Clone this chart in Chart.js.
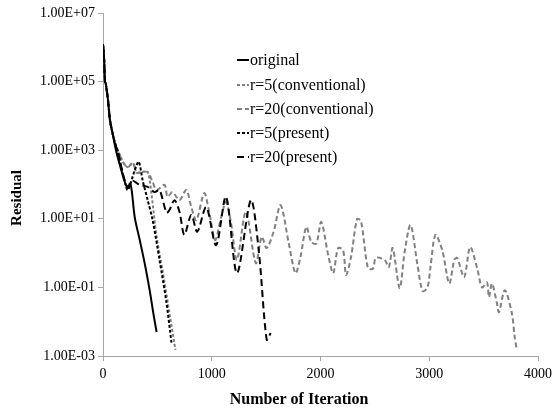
<!DOCTYPE html>
<html>
<head>
<meta charset="utf-8">
<script src="https://cdn.jsdelivr.net/npm/chart.js@4/dist/chart.umd.min.js"></script>
<style>
html,body{margin:0;padding:0;background:#fff;}
#wrap{position:relative;width:557px;height:412px;}
canvas{display:block;}
</style>
</head>
<body>
<div id="wrap"><canvas id="c" width="557" height="412"></canvas></div>
<script>
// ---- data ----
const seriesNames = ["original", "r=5(conventional)", "r=20(conventional)", "r=5(present)", "r=20(present)"];
const xTickLabels = [0, 1000, 2000, 3000, 4000];
const yTickValues = [1e-3, 1e-1, 1e1, 1e3, 1e5, 1e7];

const originalIter = [0,9,18,25,46,64,91,119,155,200,228,255,292,338,383,429,465,493];
const originalVal  = [1.2e6,5.6e5,1.0e5,8.9e4,2.9e4,7.6e3,2.8e3,1.0e3,3.7e2,1.2e2,79,98,11,2.4,0.51,0.083,0.016,0.005];

const conv5Iter = [0,9,18,25,46,64,91,119,137,182,228,274,310,356,411,447,493,547,611,666];
const conv5Val  = [1.2e6,5.6e5,1.0e5,8.9e4,2.9e4,7.6e3,2.8e3,1.3e3,1.0e3,4.6e2,3.2e2,4.3e2,2.2e2,2.3e2,2.3e2,49,3.0,0.32,0.018,0.0015];

const conv20Iter = [0,9,18,25,46,64,91,119,137,182,228,274,310,356,411,456,493,566,593,639,703,766,812,858,931,976,1031,1086,1131,1177,1232,1314,1405,1460,1505,1569,1633,1706,1770,1816,1870,1916,1962,2007,2071,2117,2162,2208,2235,2281,2336,2372,2436,2482,2509,2591,2628,2664,2728,2774,2828,2892,2938,2984,3011,3057,3120,3184,3230,3257,3321,3376,3440,3485,3531,3549,3577,3622,3641,3695,3759,3786,3805];
const conv20Val  = [1.2e6,5.6e5,1.0e5,8.9e4,2.9e4,7.6e3,2.8e3,1.3e3,1.0e3,4.6e2,3.2e2,4.3e2,2.2e2,2.3e2,2.3e2,1.2e2,69,98,44,60,35,69,22,9.1,56,16,2.4,11,31,7.6,0.63,16,0.51,3.0,1.4,4.2,25,2.1,0.26,0.78,5.8,2.1,1.9,8.1,0.87,0.26,1.4,1.2,0.23,0.78,9.8,8.7,0.37,0.35,0.72,0.63,0.39,1.4,0.095,1.1,6.6,0.45,0.079,0.10,0.39,3.4,1.2,0.13,0.63,0.72,0.20,1.5,0.37,0.10,0.14,0.052,0.13,0.035,0.019,0.083,0.018,0.0035,0.0015];

const pres5Iter = [0,9,18,25,46,64,91,119,137,200,228,292,328,365,411,456,520,584,630];
const pres5Val  = [1.2e6,5.6e5,1.0e5,8.9e4,2.9e4,7.6e3,2.8e3,1.3e3,8.7e2,1.2e2,69,2.6e2,4.6e2,1.3e2,35,9.3,0.63,0.035,0.0024];

const pres20Iter = [0,9,18,25,46,64,91,119,137,200,228,265,338,411,474,520,584,611,657,703,748,812,867,949,1040,1131,1232,1360,1432,1505,1542];
const pres20Val  = [1.2e6,5.6e5,1.0e5,8.9e4,2.9e4,7.6e3,2.8e3,1.3e3,8.7e2,1.3e2,85,1.3e2,98,85,60,69,15,18,35,16,3.4,13,4.2,22,1.7,44,0.26,35,1.2,0.003,0.0047];

// ---- build chart ----
const pts = (xs, ys) => xs.map((x, i) => ({x: x, y: ys[i]}));
const FONT = "'Liberation Serif', 'Times New Roman', serif";
const AXIS_GRAY = '#a6a6a6';
const GRAY = '#808080';

function fmtE(v) {
  const e = Math.round(Math.log10(v));
  const sign = e < 0 ? '-' : '+';
  const a = Math.abs(e);
  return '1.00E' + sign + (a < 10 ? '0' + a : String(a));
}

const styles = [
  {color: '#000000', dash: [],     order: 0},
  {color: GRAY,      dash: [3, 2], order: 3},
  {color: GRAY,      dash: [5, 3], order: 4},
  {color: '#000000', dash: [3, 2], order: 1},
  {color: '#000000', dash: [7, 4], order: 2}
];
const dataPairs = [
  [originalIter, originalVal],
  [conv5Iter, conv5Val],
  [conv20Iter, conv20Val],
  [pres5Iter, pres5Val],
  [pres20Iter, pres20Val]
];

const datasets = dataPairs.map((p, i) => ({
  label: seriesNames[i],
  data: pts(p[0], p[1]),
  borderColor: styles[i].color,
  backgroundColor: styles[i].color,
  borderDash: styles[i].dash,
  borderWidth: 2,
  pointRadius: 0,
  fill: false,
  tension: 0.3,
  order: styles[i].order
}));

const overlay = {
  id: 'overlay',
  afterDraw(chart) {
    const ctx = chart.ctx;
    ctx.save();
    // axis titles
    ctx.fillStyle = '#000';
    ctx.textAlign = 'center';
    ctx.textBaseline = 'middle';
    ctx.font = "bold 16px " + FONT;
    ctx.fillText('Number of Iteration', 299, 400);
    ctx.save();
    ctx.translate(17, 198);
    ctx.rotate(-Math.PI / 2);
    ctx.font = "bold 15px " + FONT;
    ctx.fillText('Residual', 0, 0);
    ctx.restore();
    // legend
    const ys = [60, 85, 109, 133, 157];
    ctx.font = "16px " + FONT;
    ctx.textAlign = 'left';
    seriesNames.forEach((name, i) => {
      const y = ys[i];
      ctx.beginPath();
      ctx.strokeStyle = styles[i].color;
      ctx.lineWidth = 2;
      ctx.setLineDash(styles[i].dash);
      ctx.moveTo(237, y);
      ctx.lineTo(249, y);
      ctx.stroke();
      ctx.setLineDash([]);
      ctx.fillStyle = '#000';
      ctx.fillText(name, 250, y + 1);
    });
    ctx.restore();
  }
};

new Chart(document.getElementById('c'), {
  type: 'line',
  data: {datasets: datasets},
  options: {
    responsive: false,
    animation: false,
    devicePixelRatio: 1,
    layout: {padding: {top: 13, right: 16, left: 0, bottom: 0}},
    plugins: {legend: {display: false}, tooltip: {enabled: false}},
    scales: {
      x: {
        type: 'linear',
        min: 0, max: 4000,
        ticks: {
          stepSize: 1000,
          color: '#000',
          font: {family: FONT, size: 14},
          padding: 5,
          maxRotation: 0,
          callback: v => String(v)
        },
        afterBuildTicks: s => { s.ticks = xTickLabels.map(v => ({value: v})); },
        afterFit: s => { s.height = 56; },
        grid: {display: true, drawOnChartArea: false, drawTicks: true, tickLength: 5, color: AXIS_GRAY, lineWidth: 1},
        border: {display: true, color: AXIS_GRAY, width: 1},
        title: {display: false}
      },
      y: {
        type: 'logarithmic',
        min: 1e-3, max: 1e7,
        ticks: {
          color: '#000',
          font: {family: FONT, size: 14},
          padding: 3,
          callback: v => fmtE(v)
        },
        afterBuildTicks: s => { s.ticks = yTickValues.map(v => ({value: v})); },
        afterFit: s => { s.width = 103; },
        grid: {display: true, drawOnChartArea: false, drawTicks: true, tickLength: 5, color: AXIS_GRAY, lineWidth: 1},
        border: {display: true, color: AXIS_GRAY, width: 1},
        title: {display: false}
      }
    }
  },
  plugins: [overlay]
});
</script>
</body>
</html>
